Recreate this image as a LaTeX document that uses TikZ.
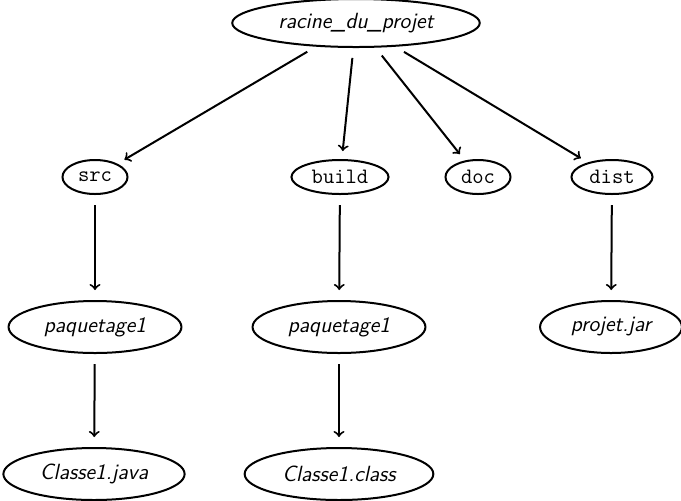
\documentclass[tikz,border=0pt]{standalone}
\usepackage{tikz}
\usetikzlibrary{positioning, arrows, shapes}

\begin{document}
\begin{tikzpicture}[x=0.5pt, y=-0.5pt, dir/.style={ellipse, draw, line width=1pt, inner xsep=3pt, inner ysep=0pt, minimum height=17pt, font=\fontsize{11}{13}\selectfont\ttfamily},fic/.style={ellipse, draw, line width=1pt, inner xsep=5pt, inner ysep=0pt, minimum height=26pt, font=\fontsize{11}{13}\selectfont\sffamily\itshape}]
  \useasboundingbox (0,0) rectangle (681,500);
  \node[fic, minimum height=24pt] (racine) at (356,23) {racine\_du\_projet};

  \node[dir] (src) at (95,177) {src};
  \node[dir] (build) at (340,177) {build};
  \node[dir] (doc) at (478,177) {doc};
  \node[dir] (dist) at (612,177) {dist};

  \node[fic] (paq1) at (95,327) {paquetage1};
  \node[fic] (paq2) at (339,327) {paquetage1};
  \node[fic] (jar) at (611,327) {projet.jar};

  \node[fic] (java) at (94,474) {Classe1.java};
  \node[fic] (class) at (339,474) {Classe1.class};

  \draw[->, line width=1pt, shorten <= 5pt, shorten >= 4pt] (racine) -- (src);
  \draw[->, line width=1pt, shorten <= 5pt, shorten >= 4pt] (racine) -- (build);
  \draw[->, line width=1pt, shorten <= 5pt, shorten >= 4pt] (racine) -- (doc);
  \draw[->, line width=1pt, shorten <= 5pt, shorten >= 4pt] (racine) -- (dist);

  \draw[->, line width=1pt, shorten <= 5pt, shorten >= 5pt] (src) -- (paq1);
  \draw[->, line width=1pt, shorten <= 5pt, shorten >= 5pt] (build) -- (paq2);
  \draw[->, line width=1pt, shorten <= 5pt, shorten >= 5pt] (dist) -- (jar);
  \draw[->, line width=1pt, shorten <= 5pt, shorten >= 5pt] (paq1) -- (java);
  \draw[->, line width=1pt, shorten <= 5pt, shorten >= 5pt] (paq2) -- (class);
\end{tikzpicture}
\end{document}
